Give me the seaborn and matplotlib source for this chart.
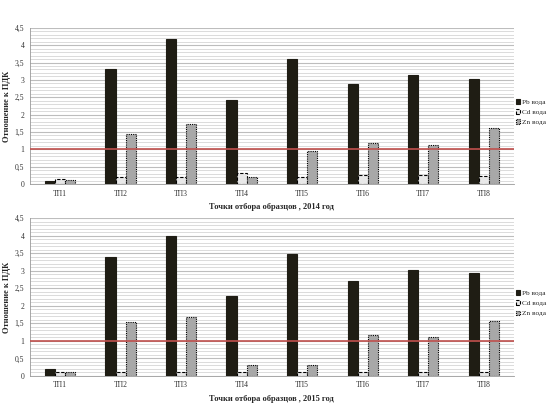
import numpy as np
import pandas as pd
import seaborn as sns
import matplotlib.pyplot as plt
from matplotlib.ticker import MultipleLocator, FuncFormatter

points = ["ТП1", "ТП2", "ТП3", "ТП4", "ТП5", "ТП6", "ТП7", "ТП8"]
elements = ["Pb вода", "Cd вода", "Zn вода"]

pb_2014 = [0.09, 3.32, 4.18, 2.43, 3.61, 2.87, 3.14, 3.03]
cd_2014 = [0.14, 0.19, 0.20, 0.31, 0.20, 0.25, 0.25, 0.24]
zn_2014 = [0.115, 1.44, 1.73, 0.19, 0.96, 1.19, 1.12, 1.62]

pb_2015 = [0.21, 3.40, 4.00, 2.29, 3.47, 2.70, 3.03, 2.92]
cd_2015 = [0.12, 0.12, 0.12, 0.12, 0.12, 0.12, 0.12, 0.12]
zn_2015 = [0.10, 1.53, 1.68, 0.32, 0.32, 1.17, 1.12, 1.57]

pdk_level = 1.0

sns.set_style("white")
plt.rcParams["font.family"] = ["Liberation Serif", "DejaVu Serif"]


def to_long(pb, cd, zn):
    rows = []
    for name, vals in zip(elements, [pb, cd, zn]):
        for p, v in zip(points, vals):
            rows.append((p, name, v))
    return pd.DataFrame(rows, columns=["point", "element", "value"])


face = ["#1f1d14", "#e8e8e8", "#a8a8a8"]
edge_styles = ["solid", (0, (3, 1.5)), (0, (1, 1))]

fig = plt.figure(figsize=(5.52, 4.09), dpi=100)
ax_top = fig.add_axes([0.054, 0.550, 0.877, 0.382])
ax_bot = fig.add_axes([0.054, 0.081, 0.877, 0.386])

for ax, data, year in [(ax_top, (pb_2014, cd_2014, zn_2014), 2014),
                       (ax_bot, (pb_2015, cd_2015, zn_2015), 2015)]:
    df = to_long(*data)
    sns.barplot(data=df, x="point", y="value", hue="element", order=points,
                hue_order=elements, palette=face, width=0.5, ax=ax,
                edgecolor="black", linewidth=0.8, legend=False, saturation=1)
    for i, cont in enumerate(ax.containers):
        for bar in cont:
            bar.set_linestyle(edge_styles[i])
            if i == 0:
                bar.set_edgecolor("#1f1d14")
    ax.set_ylim(0, 4.5)
    ax.set_xlim(-0.5, 7.5)
    ax.yaxis.set_major_locator(MultipleLocator(0.5))
    ax.yaxis.set_minor_locator(MultipleLocator(0.1))
    ax.yaxis.set_major_formatter(FuncFormatter(lambda v, p: f"{v:g}".replace(".", ",")))
    ax.grid(axis="y", which="major", color="#bdbdbd", linewidth=0.8)
    ax.grid(axis="y", which="minor", color="#d6d6d6", linewidth=0.6)
    ax.set_axisbelow(True)
    ax.axhline(pdk_level, color="#c0504d", linewidth=1.2, zorder=5)
    for s in ["top", "right"]:
        ax.spines[s].set_visible(False)
    ax.spines["left"].set_color("#999999")
    ax.spines["bottom"].set_color("#999999")
    ax.spines["left"].set_linewidth(0.6)
    ax.spines["bottom"].set_linewidth(0.6)
    ax.tick_params(axis="both", labelsize=5.5, length=0, pad=4, colors="#333333")
    ax.set_xlabel(f"Точки отбора образцов , {year} год", fontsize=6, fontweight="bold", labelpad=4)
    ax.set_ylabel("Отношение к ПДК", fontsize=6, fontweight="bold", labelpad=3)
    ax.legend(handles=list(ax.containers), labels=elements, loc="center left",
              bbox_to_anchor=(0.99, 0.46), frameon=False, fontsize=5.2,
              handlelength=0.6, handleheight=0.6, handletextpad=0.3, labelspacing=0.6)

fig.savefig("out.png", dpi=100)
